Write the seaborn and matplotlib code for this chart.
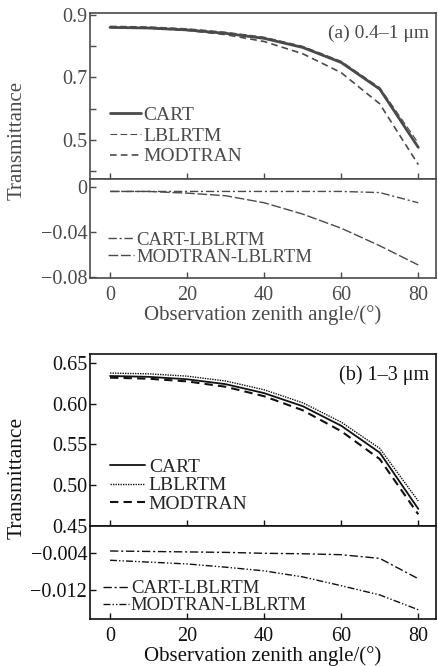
import numpy as np
import pandas as pd
import matplotlib
matplotlib.use("Agg")
import matplotlib.pyplot as plt
import seaborn as sns

# ---------------- data ----------------
angles = [0, 10, 20, 30, 40, 50, 60, 70, 80]

# panel (a) 0.4-1 um
cart_a = [0.859, 0.857, 0.851, 0.840, 0.824, 0.795, 0.747, 0.662, 0.476]
lblrtm_a = [0.863, 0.861, 0.855, 0.844, 0.828, 0.799, 0.751, 0.667, 0.490]
modtran_a = [0.859, 0.857, 0.8495, 0.836, 0.814, 0.775, 0.7145, 0.615, 0.421]
cart_lbl_a = [-0.004, -0.004, -0.004, -0.004, -0.004, -0.004, -0.004, -0.005, -0.014]
mod_lbl_a = [-0.004, -0.004, -0.0055, -0.0078, -0.014, -0.024, -0.0365, -0.052, -0.069]

# panel (b) 1-3 um
cart_b = [0.634, 0.633, 0.630, 0.624, 0.613, 0.597, 0.573, 0.540, 0.471]
lblrtm_b = [0.6376, 0.6367, 0.6338, 0.6279, 0.6171, 0.6012, 0.5774, 0.5452, 0.4806]
modtran_b = [0.632, 0.6307, 0.6274, 0.6208, 0.6092, 0.592, 0.5663, 0.5321, 0.4643]
cart_lbl_b = [-0.0036, -0.0037, -0.0038, -0.0039, -0.0041, -0.0042, -0.0044, -0.0052, -0.0096]
mod_lbl_b = [-0.0056, -0.0060, -0.0064, -0.0071, -0.0079, -0.0092, -0.0111, -0.0131, -0.0163]

xticks = [0, 20, 40, 60, 80]
yticks_a_top = [0.5, 0.7, 0.9]
yticks_a_top_minor = [0.4, 0.6, 0.8]
yticks_a_bot = [-0.08, -0.04, 0]
yticks_b_top = [0.45, 0.50, 0.55, 0.60, 0.65]
yticks_b_bot = [-0.012, -0.004]

xlabel = "Observation zenith angle/(°)"
ylabel = "Transmittance"

# ---------------- style ----------------
sns.set_theme(style="white")
plt.rcParams["font.family"] = ["Liberation Serif", "DejaVu Serif"]
TICK_FS = 14.5
LEG_FS = 14
LEG2_FS = 13.5
LAB_FS = 15

W, H = 438, 666
fig = plt.figure(figsize=(W / 100, H / 100), dpi=100)


def ax_at(left, top, right, bottom):
    return fig.add_axes([left / W, 1 - bottom / H, (right - left) / W, (bottom - top) / H])


L, R = 90, 436
ax_a1 = ax_at(L, 13, R, 179)
ax_a2 = ax_at(L, 179, R, 278)
ax_b1 = ax_at(L, 354, R, 526)
ax_b2 = ax_at(L, 526, R, 619)

gray_a = "#4a4a4a"
black = "#111111"


def style(ax, col):
    ax.set_xlim(-5.2, 84.6)
    ax.set_xticks(xticks)
    ax.tick_params(direction="in", length=4.5, width=1, colors=col, labelsize=TICK_FS,
                   top=False, right=False, left=True, bottom=True, pad=2)
    ax.tick_params(axis="x", pad=5.5)
    for s in ax.spines.values():
        s.set_linewidth(1.2)
        s.set_color(col)
    ax.set_facecolor("white")
    ax.grid(False)
    ax.set_xlabel("")
    ax.set_ylabel("")


# ---- panel (a) top ----
sns.lineplot(x=angles, y=cart_a, ax=ax_a1, color=gray_a, lw=2.0, linestyle="-", label="CART")
sns.lineplot(x=angles, y=lblrtm_a, ax=ax_a1, color=gray_a, lw=0.8, linestyle=(0, (6, 3)), label="LBLRTM")
sns.lineplot(x=angles, y=modtran_a, ax=ax_a1, color=gray_a, lw=1.2, linestyle=(0, (4, 2.5)), label="MODTRAN")
style(ax_a1, gray_a)
ax_a1.set_ylim(0.375, 0.905)
ax_a1.set_yticks(yticks_a_top)
ax_a1.set_yticks(yticks_a_top_minor, minor=True)
ax_a1.tick_params(which="minor", direction="in", length=4.5, width=1, left=True, colors=gray_a)
ax_a1.set_yticklabels(["0.5", "0.7", "0.9"])
ax_a1.tick_params(axis="x", labelbottom=False)
ax_a1.text(0.98, 0.875, "(a) 0.4–1 μm", transform=ax_a1.transAxes, ha="right", va="center",
           fontsize=14, color=gray_a)
ax_a1.legend(loc="lower left", bbox_to_anchor=(0.035, 0.035), frameon=False, fontsize=LEG_FS,
             handlelength=1.6, handletextpad=0.1, labelspacing=0.16, borderaxespad=0,
             labelcolor=gray_a)

# ---- panel (a) bottom ----
sns.lineplot(x=angles, y=cart_lbl_a, ax=ax_a2, color=gray_a, lw=1.0, linestyle=(0, (6, 2, 1.5, 2)),
             label="CART-LBLRTM")
sns.lineplot(x=angles, y=mod_lbl_a, ax=ax_a2, color=gray_a, lw=1.0, linestyle=(0, (7, 2)),
             label="MODTRAN-LBLRTM")
style(ax_a2, gray_a)
ax_a2.set_ylim(-0.0805, 0.007)
ax_a2.set_yticks(yticks_a_bot)
ax_a2.set_yticklabels(["−0.08", "−0.04", "0"])
ax_a2.legend(loc="lower left", bbox_to_anchor=(0.03, 0.05), frameon=False, fontsize=LEG2_FS,
             handlelength=1.4, handletextpad=0.1, labelspacing=-0.02, borderaxespad=0,
             labelcolor=gray_a)
ax_a2.set_xlabel(xlabel, fontsize=LAB_FS, color=gray_a, labelpad=0)

# ---- panel (b) top ----
sns.lineplot(x=angles, y=cart_b, ax=ax_b1, color=black, lw=1.3, linestyle="-", label="CART")
sns.lineplot(x=angles, y=lblrtm_b, ax=ax_b1, color=black, lw=1.0, linestyle=(0, (1, 0.8)), label="LBLRTM")
sns.lineplot(x=angles, y=modtran_b, ax=ax_b1, color=black, lw=1.5, linestyle=(0, (4, 2.5)), label="MODTRAN")
style(ax_b1, black)
ax_b1.set_ylim(0.45, 0.661)
ax_b1.set_yticks(yticks_b_top)
ax_b1.set_yticklabels(["0.45", "0.50", "0.55", "0.60", "0.65"])
ax_b1.tick_params(axis="x", labelbottom=False)
ax_b1.text(0.98, 0.875, "(b) 1–3 μm", transform=ax_b1.transAxes, ha="right", va="center",
           fontsize=14.5, color=black)
ax_b1.legend(loc="lower left", bbox_to_anchor=(0.035, 0.03), frameon=False, fontsize=LEG_FS,
             handlelength=1.8, handletextpad=0.2, labelspacing=0.05, borderaxespad=0)

# ---- panel (b) bottom ----
sns.lineplot(x=angles, y=cart_lbl_b, ax=ax_b2, color=black, lw=1.0, linestyle=(0, (6, 2, 1.5, 2)),
             label="CART-LBLRTM")
sns.lineplot(x=angles, y=mod_lbl_b, ax=ax_b2, color=black, lw=1.0,
             linestyle=(0, (5, 1.5, 1, 1.5, 1, 1.5)), label="MODTRAN-LBLRTM")
style(ax_b2, black)
ax_b2.set_ylim(-0.0183, 0.0018)
ax_b2.set_yticks(yticks_b_bot)
ax_b2.set_yticklabels(["−0.012", "−0.004"])
ax_b2.legend(loc="lower left", bbox_to_anchor=(0.015, -0.03), frameon=False, fontsize=LEG2_FS,
             handlelength=1.4, handletextpad=0.1, labelspacing=0.0, borderaxespad=0)
ax_b2.set_xlabel(xlabel, fontsize=LAB_FS, color=black, labelpad=0)

# shared y labels
fig.text(17 / W, 1 - 140 / H, ylabel, rotation=90, ha="center", va="center", fontsize=15, color=gray_a)
fig.text(17 / W, 1 - 478 / H, ylabel, rotation=90, ha="center", va="center", fontsize=15.5, color=black)

fig.savefig("out.png", dpi=100, facecolor="white")
